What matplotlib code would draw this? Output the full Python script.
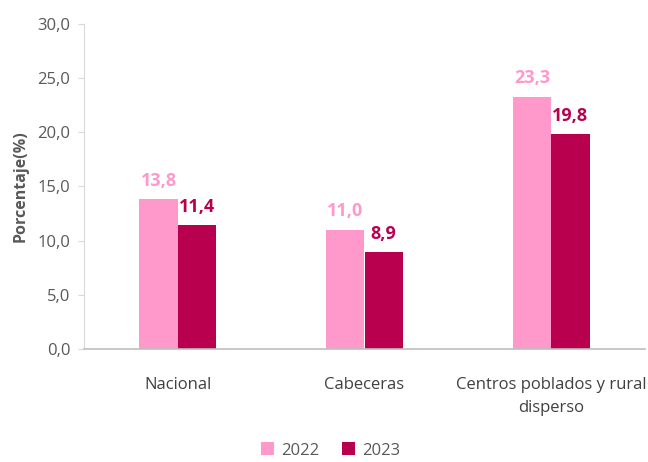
import matplotlib.pyplot as plt
import numpy as np

categorias = ['Nacional', 'Cabeceras', 'Centros poblados y rural\ndisperso']
v2022 = [13.8, 11.0, 23.3]
v2023 = [11.4, 8.9, 19.8]
etiquetas_y = ['0,0', '5,0', '10,0', '15,0', '20,0', '25,0', '30,0']

c2022 = '#FF99CC'
c2023 = '#B8004E'

plt.rcParams['font.family'] = ['Open Sans', 'DejaVu Sans']

fig = plt.figure(figsize=(6.48, 4.62), dpi=100)
ax = fig.add_axes([0.13, 0.245, 0.865, 0.703])

x = np.arange(len(categorias))
w = 0.205
b1 = ax.bar(x - w / 2, v2022, w, color=c2022, label='2022')
b2 = ax.bar(x + w / 2, v2023, w, color=c2023, label='2023')

for bars, col in ((b1, c2022), (b2, c2023)):
    for r in bars:
        h = r.get_height()
        ax.text(r.get_x() + r.get_width() / 2, h + 0.9, f'{h:.1f}'.replace('.', ','),
                ha='center', va='bottom', color=col, fontsize=13, fontweight='bold')

ax.set_ylim(0, 30)
ax.set_xlim(-0.5, 2.5)
ax.set_yticks(np.arange(0, 31, 5))
ax.set_yticklabels(etiquetas_y)
ax.set_xticks(x)
ax.set_xticklabels(categorias, linespacing=1.6, va='top')
ax.tick_params(axis='y', colors='#595959', labelsize=12, length=4, color='#D9D9D9', pad=6)
ax.tick_params(axis='x', colors='#404040', labelsize=12, length=0, pad=20)
ax.set_ylabel('Porcentaje(%)', fontsize=11.5, fontweight='bold', color='#595959', labelpad=6)

for s in ('top', 'right'):
    ax.spines[s].set_visible(False)
ax.spines['left'].set_color('#D9D9D9')
ax.spines['bottom'].set_color('#BFBFBF')
ax.spines['bottom'].set_linewidth(1.2)

fig.legend(loc='lower center', bbox_to_anchor=(0.51, -0.025), ncol=2, frameon=False,
           fontsize=12, handlelength=0.8, handleheight=0.8, handletextpad=0.4,
           columnspacing=1.4, labelcolor='#595959')

fig.savefig('out.png', dpi=100)
